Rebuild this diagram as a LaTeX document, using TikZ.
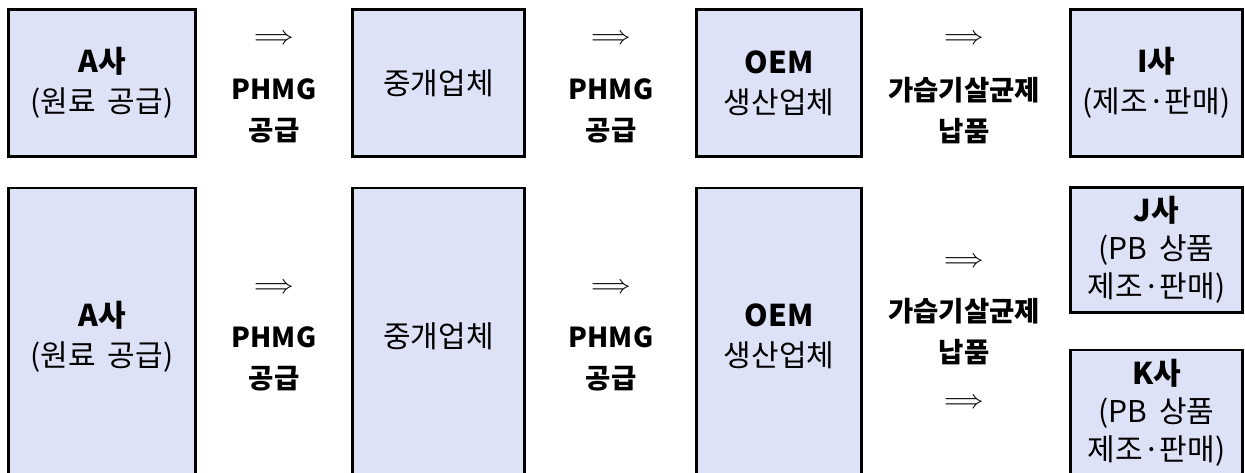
\documentclass[tikz,border=0pt]{standalone}
\usepackage{fontspec}
\setmainfont{Noto Sans CJK KR}
\newfontfamily\arrowfont{latinmodern-math.otf}
\definecolor{boxfill}{RGB}{222,226,246}
\tikzset{
  cbox/.style={draw=black, line width=2.2pt, fill=boxfill, inner sep=0pt, align=center,
    font=\fontsize{30}{40}\selectfont},
  lbl/.style={inner sep=0pt, align=center, font=\fontsize{27.5}{41}\selectfont\bfseries},
  arr/.style={inner sep=0pt, font=\fontsize{27}{27}\selectfont\arrowfont}
}
\begin{document}
\begin{tikzpicture}[x=1pt,y=-1pt]
\useasboundingbox (0,0) rectangle (1245,472);
\clip (0,0) rectangle (1245,472);
% top row
\node[cbox, minimum width=187pt, minimum height=147pt] (a1) at (102,83) {{\bfseries A사}\\(원료\hspace{0.4em}공급)};
\node[cbox, minimum width=172pt, minimum height=147pt] (b1) at (438.5,83) {중개업체};
\node[cbox, minimum width=165pt, minimum height=147pt] (c1) at (779,83) {{\bfseries OEM}\\생산업체};
\node[cbox, minimum width=172pt, minimum height=147pt] (d1) at (1156.5,83) {{\bfseries I사}\\(제조·판매)};
\node[arr] (r11) at (274,38) {⟹};
\node[lbl] (t11) at (274,111) {PHMG\\공급};
\node[arr] (r12) at (611,38) {⟹};
\node[lbl] (t12) at (611,111) {PHMG\\공급};
\node[arr] (r13) at (964,38) {⟹};
\node[lbl] (t13) at (964,111) {가습기살균제\\납품};
% bottom row
\node[cbox, minimum width=187pt, minimum height=297pt] (a2) at (102,336.5) {{\bfseries A사}\\(원료\hspace{0.4em}공급)};
\node[cbox, minimum width=172pt, minimum height=297pt] (b2) at (438.5,336.5) {중개업체};
\node[cbox, minimum width=165pt, minimum height=297pt] (c2) at (779,336.5) {{\bfseries OEM}\\생산업체};
\node[cbox, minimum width=172pt, minimum height=125pt, font=\fontsize{30}{38}\selectfont] (j2) at (1156.5,250) {{\bfseries J사}\\(PB\hspace{0.4em}상품\\제조·판매)};
\node[cbox, minimum width=172pt, minimum height=126pt, font=\fontsize{30}{38}\selectfont] (k2) at (1156.5,413) {{\bfseries K사}\\(PB\hspace{0.4em}상품\\제조·판매)};
\node[arr] (r21) at (274,287) {⟹};
\node[lbl] (t21) at (274,359) {PHMG\\공급};
\node[arr] (r22) at (611,287) {⟹};
\node[lbl] (t22) at (611,359) {PHMG\\공급};
\node[arr] (r23) at (964,261) {⟹};
\node[lbl] (t23) at (964,332) {가습기살균제\\납품};
\node[arr] (r24) at (964,402) {⟹};
\end{tikzpicture}
\end{document}
